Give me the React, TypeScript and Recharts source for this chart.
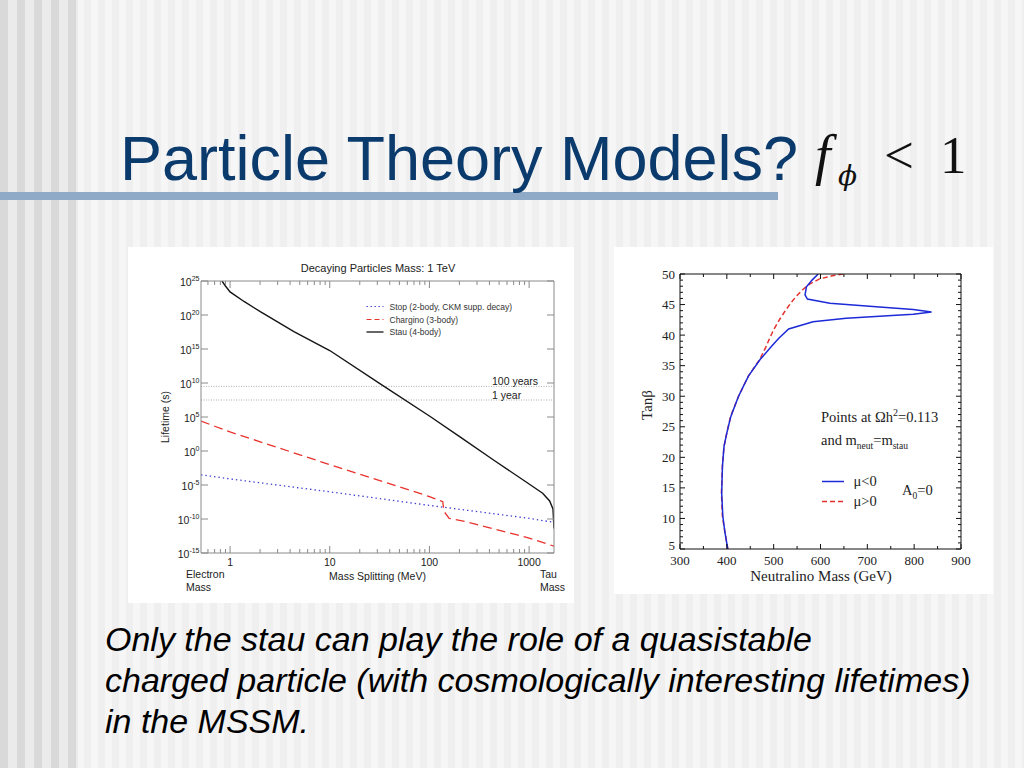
import React from 'react';
import { LineChart, Line, XAxis, YAxis, ReferenceLine } from 'recharts';

// ---------------- Left chart: Decaying Particles Mass: 1 TeV ----------------
// Mass splitting (MeV) vs lifetime (s)
const stauMass = [0.83, 0.891, 1, 1.38, 2.01, 4.37, 10, 32.4, 100, 206, 447, 1000, 1367, 1607, 1735, 1777];
const stauLifetime = [1e25, 2.2e24, 2.5e23, 9.8e21, 3.1e20, 3.5e17, 6e14, 7e9, 1.4e5, 100, 4e-2, 1.4e-5, 6.3e-7, 4.5e-8, 3e-9, 4e-12];
const charginoMass = [0.511, 1, 10, 100, 136, 140, 158, 234, 744, 1000, 1777];
const charginoLifetime = [2.5e4, 6.3e2, 1e-2, 2e-7, 3.5e-8, 1.26e-9, 1.26e-10, 4e-11, 5e-13, 1.6e-13, 1e-14];
const stopMass = [0.511, 1, 10, 100, 1000, 1777];
const stopLifetime = [3.16e-4, 7.9e-5, 1e-6, 1e-8, 1.26e-10, 3.16e-11];
const year100 = 3.156e9;
const year1 = 3.156e7;
const massDomain = [0.511, 1777];
const lifetimeDomain = [1e-15, 1e25];
const massTicks = [0.6, 0.7, 0.8, 0.9, 1, 2, 3, 4, 5, 6, 7, 8, 9, 10, 20, 30, 40, 50, 60, 70, 80, 90, 100, 200, 300, 400, 500, 600, 700, 800, 900, 1000];
const massTickLabels = [1, 10, 100, 1000];
const lifetimeTicks = [1e-15, 1e-10, 1e-5, 1, 1e5, 1e10, 1e15, 1e20, 1e25];
const lifetimeExponents = ['-15', '-10', '-5', '0', '5', '10', '15', '20', '25'];

// ---------------- Right chart: tan beta vs neutralino mass ----------------
const muNegMass = [402, 396, 391.4, 389, 390.7, 394, 400, 408.6, 425, 446, 471, 496, 511, 532, 584, 655, 726, 798, 837, 798, 726, 620, 572, 567, 570, 582, 595];
const muNegTan = [5, 7.7, 10.4, 14.2, 18.6, 21.8, 24, 26.7, 30, 33.3, 36, 38.2, 39.5, 41.0, 42.2, 42.75, 43.1, 43.4, 43.8, 44.2, 44.6, 45.2, 45.9, 46.6, 47.9, 49, 50];
const muPosMass = [402, 396, 390.5, 388.5, 390.5, 394, 400, 408, 425, 446, 470, 483, 491, 500, 513, 524, 537, 550, 563, 578, 598, 625, 648];
const muPosTan = [5, 7.7, 10.4, 14.2, 18.6, 21.8, 24, 26.7, 30, 33.3, 36, 38, 39.4, 40.9, 42.6, 43.9, 45.3, 46.5, 47.5, 48.4, 49.2, 49.7, 50];
const neutDomain = [300, 900];
const tanDomain = [5, 50];
const neutTicks = [300, 350, 400, 450, 500, 550, 600, 650, 700, 750, 800, 850, 900];
const neutTickLabels = [300, 400, 500, 600, 700, 800, 900];
const tanTicks = [5, 6, 7, 8, 9, 10, 11, 12, 13, 14, 15, 16, 17, 18, 19, 20, 21, 22, 23, 24, 25, 26, 27, 28, 29, 30, 31, 32, 33, 34, 35, 36, 37, 38, 39, 40, 41, 42, 43, 44, 45, 46, 47, 48, 49, 50];
const tanTickLabels = [5, 10, 15, 20, 25, 30, 35, 40, 45, 50];

const SANS = '"Liberation Sans", Arial, Helvetica, sans-serif';
const SERIF = '"Liberation Serif", "Times New Roman", serif';
const FRAME = '#8a8a8a';

const zip = (xs: number[], ys: number[], kx: string, ky: string) => xs.map((v, i) => ({ [kx]: v, [ky]: ys[i] }));

const stauData = zip(stauMass, stauLifetime, 'm', 't');
const charginoData = zip(charginoMass, charginoLifetime, 'm', 't');
const stopData = zip(stopMass, stopLifetime, 'm', 't');
const muNegData = zip(muNegMass, muNegTan, 'g', 'b');
const muPosData = zip(muPosMass, muPosTan, 'g', 'b');

// ---- left chart ticks ----
const LBottomTick = (p: any) => {
  const { x, y, payload } = p;
  const v = payload.value;
  const maj = massTickLabels.includes(v);
  return (
    <g>
      <line x1={x} y1={y} x2={x} y2={y - (maj ? 7 : 4)} stroke={FRAME} strokeWidth={1} />
      {maj && (
        <text x={x} y={y + 13} textAnchor="middle" fontSize={10.5} fill="#222" fontFamily={SANS}>{v}</text>
      )}
    </g>
  );
};
const LTopTick = (p: any) => {
  const { x, y, payload } = p;
  const maj = massTickLabels.includes(payload.value);
  return <line x1={x} y1={y} x2={x} y2={y + (maj ? 7 : 4)} stroke={FRAME} strokeWidth={1} />;
};
const LLeftTick = (p: any) => {
  const { x, y, payload } = p;
  const idx = lifetimeTicks.indexOf(payload.value);
  const exp = idx >= 0 ? lifetimeExponents[idx] : '';
  return (
    <g>
      <line x1={x} y1={y} x2={x + 7} y2={y} stroke={FRAME} strokeWidth={1} />
      <text x={x - 1.5} y={y + 5} textAnchor="end" fontSize={10.5} fill="#222" fontFamily={SANS}>
        <tspan>10</tspan>
        <tspan dy={-5.5} fontSize={7}>{exp}</tspan>
      </text>
    </g>
  );
};
const LRightTick = (p: any) => {
  const { x, y } = p;
  return <line x1={x} y1={y} x2={x - 7} y2={y} stroke={FRAME} strokeWidth={1} />;
};

// ---- right chart ticks ----
const RBottomTick = (p: any) => {
  const { x, y, payload } = p;
  const v = payload.value;
  const maj = neutTickLabels.includes(v);
  return (
    <g>
      <line x1={x} y1={y} x2={x} y2={y - (maj ? 5 : 3)} stroke="#111" strokeWidth={1} />
      {maj && (
        <text x={x} y={y + 16} textAnchor="middle" fontSize={13} fill="#222" fontFamily={SERIF}>{v}</text>
      )}
    </g>
  );
};
const RTopTick = (p: any) => {
  const { x, y, payload } = p;
  const maj = neutTickLabels.includes(payload.value);
  return <line x1={x} y1={y} x2={x} y2={y + (maj ? 5 : 3)} stroke="#111" strokeWidth={1} />;
};
const RLeftTick = (p: any) => {
  const { x, y, payload } = p;
  const v = payload.value;
  const maj = tanTickLabels.includes(v);
  const lift = v === tanDomain[0] ? 3.5 : 0;
  return (
    <g>
      <line x1={x} y1={y} x2={x + (maj ? 5 : 3)} y2={y} stroke="#111" strokeWidth={1} />
      {maj && (
        <text x={x - 5} y={y + 4.5 - lift} textAnchor="end" fontSize={13} fill="#222" fontFamily={SERIF}>{v}</text>
      )}
    </g>
  );
};
const RRightTick = (p: any) => {
  const { x, y, payload } = p;
  const maj = tanTickLabels.includes(payload.value);
  return <line x1={x} y1={y} x2={x - (maj ? 5 : 3)} y2={y} stroke="#111" strokeWidth={1} />;
};

function LeftChart() {
  return (
    <LineChart width={446} height={356} margin={{ top: 33, right: 19, bottom: 49, left: 72 }}>
      <XAxis xAxisId="b" type="number" dataKey="m" scale="log" domain={massDomain} allowDataOverflow
        ticks={massTicks} interval={0} tick={LBottomTick} tickLine={false} tickSize={0} tickMargin={0}
        height={1} axisLine={{ stroke: FRAME }} orientation="bottom" />
      <XAxis xAxisId="t" type="number" dataKey="m" scale="log" domain={massDomain} allowDataOverflow
        ticks={massTicks} interval={0} tick={LTopTick} tickLine={false} tickSize={0} tickMargin={0}
        height={1} axisLine={{ stroke: FRAME }} orientation="top" />
      <YAxis yAxisId="l" type="number" scale="log" domain={lifetimeDomain} allowDataOverflow
        ticks={lifetimeTicks} interval={0} tick={LLeftTick} tickLine={false} tickSize={0} tickMargin={0}
        width={1} axisLine={{ stroke: FRAME }} orientation="left" />
      <YAxis yAxisId="r" type="number" scale="log" domain={lifetimeDomain} allowDataOverflow
        ticks={lifetimeTicks} interval={0} tick={LRightTick} tickLine={false} tickSize={0} tickMargin={0}
        width={1} axisLine={{ stroke: FRAME }} orientation="right" />
      <ReferenceLine xAxisId="b" yAxisId="l" y={year100} stroke="#9a9a9a" strokeDasharray="1 1.5" strokeWidth={0.8} />
      <ReferenceLine xAxisId="b" yAxisId="l" y={year1} stroke="#9a9a9a" strokeDasharray="1 1.5" strokeWidth={0.8} />
      <Line xAxisId="b" yAxisId="l" data={stopData} dataKey="t" type="linear" stroke="#3b3fd4" strokeWidth={1.3}
        strokeDasharray="1.4 3" dot={false} isAnimationActive={false} />
      <Line xAxisId="b" yAxisId="l" data={charginoData} dataKey="t" type="linear" stroke="#e8322c" strokeWidth={1.3}
        strokeDasharray="9 5" dot={false} isAnimationActive={false} />
      <Line xAxisId="b" yAxisId="l" data={stauData} dataKey="t" type="linear" stroke="#151515" strokeWidth={1.4}
        dot={false} isAnimationActive={false} />
    </LineChart>
  );
}

function RightChart() {
  return (
    <LineChart width={379} height={347} margin={{ top: 26, right: 31, bottom: 44, left: 65 }}>
      <XAxis xAxisId="b" type="number" dataKey="g" domain={neutDomain} allowDataOverflow
        ticks={neutTicks} interval={0} tick={RBottomTick} tickLine={false} tickSize={0} tickMargin={0}
        height={1} axisLine={{ stroke: '#111' }} orientation="bottom" />
      <XAxis xAxisId="t" type="number" dataKey="g" domain={neutDomain} allowDataOverflow
        ticks={neutTicks} interval={0} tick={RTopTick} tickLine={false} tickSize={0} tickMargin={0}
        height={1} axisLine={{ stroke: '#111' }} orientation="top" />
      <YAxis yAxisId="l" type="number" domain={tanDomain} allowDataOverflow
        ticks={tanTicks} interval={0} tick={RLeftTick} tickLine={false} tickSize={0} tickMargin={0}
        width={1} axisLine={{ stroke: '#111' }} orientation="left" />
      <YAxis yAxisId="r" type="number" domain={tanDomain} allowDataOverflow
        ticks={tanTicks} interval={0} tick={RRightTick} tickLine={false} tickSize={0} tickMargin={0}
        width={1} axisLine={{ stroke: '#111' }} orientation="right" />
      <Line xAxisId="b" yAxisId="l" data={muPosData} dataKey="b" type="linear" stroke="#e4302c" strokeWidth={1.5}
        strokeDasharray="5 3" dot={false} isAnimationActive={false} />
      <Line xAxisId="b" yAxisId="l" data={muNegData} dataKey="b" type="linear" stroke="#1c2ad8" strokeWidth={1.5}
        dot={false} isAnimationActive={false} />
    </LineChart>
  );
}

const bg =
  'repeating-linear-gradient(90deg, #d9d9d9 0px, #d9d9d9 8px, #ebebeb 8px, #ebebeb 17px) 0 0 / 78px 100% no-repeat, ' +
  'repeating-linear-gradient(90deg, #efefef 0px, #efefef 7px, #f6f6f6 7px, #f6f6f6 14px)';

export default function App() {
  return (
    <div style={{ position: 'absolute', left: 0, top: 0, width: 1024, height: 768, overflow: 'hidden', background: bg }}>
      <div style={{ position: 'absolute', left: 128, top: 247, width: 446, height: 356, background: '#fff' }} />
      <div style={{ position: 'absolute', left: 614, top: 247, width: 379, height: 347, background: '#fff' }} />
      <div style={{ position: 'absolute', left: 128, top: 247 }}>
        <LeftChart />
      </div>
      <div style={{ position: 'absolute', left: 614, top: 247 }}>
        <RightChart />
      </div>
      <svg width={1024} height={768} style={{ position: 'absolute', left: 0, top: 0, pointerEvents: 'none' }}>
        {/* Slide title */}
        <rect x={0} y={192} width={778} height={8} fill="#8eaac7" />
        <text x={120} y={180} fontSize={63} fill="#0b3a6d" fontFamily={SANS}>Particle Theory Models?</text>
        <text x={815} y={174} fontSize={56} fontStyle="italic" fontFamily={SERIF} fill="#111">f</text>
        <text x={838} y={185} fontSize={28} fontStyle="italic" fontFamily='"DejaVu Serif", serif' fill="#111">ϕ</text>
        <text x={884} y={173} fontSize={53} fontFamily={SERIF} fill="#111">&lt;</text>
        <text x={940} y={173} fontSize={53} fontFamily={SERIF} fill="#111">1</text>

        {/* Left chart annotations */}
        <text x={378} y={272} textAnchor="middle" fontSize={11} fill="#222" fontFamily={SANS}>Decaying Particles Mass: 1 TeV</text>
        <line x1={366.5} y1={306.5} x2={383.5} y2={306.5} stroke="#3b3fd4" strokeWidth={1.2} strokeDasharray="1.4 2.6" />
        <text x={389.5} y={309.5} fontSize={8.5} fill="#333" fontFamily={SANS}>Stop (2-body, CKM supp. decay)</text>
        <line x1={366.5} y1={319.5} x2={383.5} y2={319.5} stroke="#e8322c" strokeWidth={1.2} strokeDasharray="5 3" />
        <text x={389.5} y={322.5} fontSize={8.5} fill="#333" fontFamily={SANS}>Chargino (3-body)</text>
        <line x1={366.5} y1={332} x2={383.5} y2={332} stroke="#151515" strokeWidth={1.3} />
        <text x={389.5} y={335} fontSize={8.5} fill="#333" fontFamily={SANS}>Stau (4-body)</text>
        <text x={492} y={384.5} fontSize={10.5} fill="#222" fontFamily={SANS}>100 years</text>
        <text x={492} y={399} fontSize={10.5} fill="#222" fontFamily={SANS}>1 year</text>
        <text x={377.5} y={580} textAnchor="middle" fontSize={10.5} fill="#222" fontFamily={SANS}>Mass Splitting (MeV)</text>
        <text x={186} y={578} fontSize={10.5} fill="#222" fontFamily={SANS}>Electron</text>
        <text x={186} y={591} fontSize={10.5} fill="#222" fontFamily={SANS}>Mass</text>
        <text x={540} y={578} fontSize={10.5} fill="#222" fontFamily={SANS}>Tau</text>
        <text x={540} y={591} fontSize={10.5} fill="#222" fontFamily={SANS}>Mass</text>
        <text x={169} y={417} textAnchor="middle" fontSize={10.5} fill="#222" fontFamily={SANS}
          transform="rotate(-90 169 417)">Lifetime (s)</text>

        {/* Right chart annotations */}
        <text x={821} y={581} textAnchor="middle" fontSize={15} fill="#222" fontFamily={SERIF}>Neutralino Mass (GeV)</text>
        <text x={652} y={405} textAnchor="middle" fontSize={15} fill="#222" fontFamily={SERIF}
          transform="rotate(-90 652 405)">Tanβ</text>
        <text x={821} y={422} fontSize={14.5} fill="#222" fontFamily={SERIF}>
          <tspan>Points at  Ωh</tspan>
          <tspan dy={-6} fontSize={10}>2</tspan>
          <tspan dy={6}>=0.113</tspan>
        </text>
        <text x={821} y={445} fontSize={14.5} fill="#222" fontFamily={SERIF}>
          <tspan>and m</tspan>
          <tspan dy={4} fontSize={9.5}>neut</tspan>
          <tspan dy={-4}>=m</tspan>
          <tspan dy={4} fontSize={9.5}>stau</tspan>
        </text>
        <line x1={822} y1={481.5} x2={844} y2={481.5} stroke="#1c2ad8" strokeWidth={1.5} />
        <text x={853.5} y={486} fontSize={14.5} fill="#222" fontFamily={SERIF}>μ&lt;0</text>
        <line x1={822} y1={501.5} x2={844} y2={501.5} stroke="#e4302c" strokeWidth={1.5} strokeDasharray="5 3" />
        <text x={853.5} y={506} fontSize={14.5} fill="#222" fontFamily={SERIF}>μ&gt;0</text>
        <text x={902} y={495} fontSize={14.5} fill="#222" fontFamily={SERIF}>
          <tspan>A</tspan>
          <tspan dy={4} fontSize={9.5}>0</tspan>
          <tspan dy={-4}>=0</tspan>
        </text>

        {/* Body text */}
        <text x={105} y={651} fontSize={34} fontStyle="italic" fill="#000" fontFamily={SANS}>Only the stau can play the role of a quasistable</text>
        <text x={105} y={692} fontSize={34} fontStyle="italic" fill="#000" fontFamily={SANS}>charged particle (with cosmologically interesting lifetimes)</text>
        <text x={105} y={733} fontSize={34} fontStyle="italic" fill="#000" fontFamily={SANS}>in the MSSM.</text>
      </svg>
    </div>
  );
}
